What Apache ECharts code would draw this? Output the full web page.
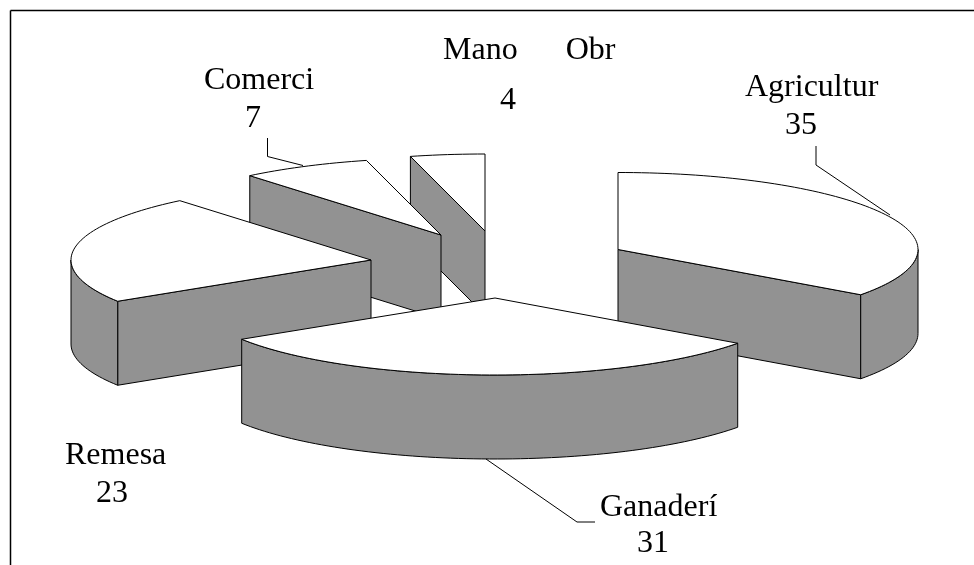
<!DOCTYPE html>
<html>
<head>
<meta charset="utf-8">
<title>Pie</title>
<script src="https://cdn.jsdelivr.net/npm/echarts@6/dist/echarts.min.js"></script>
<style>
    html, body { margin: 0; padding: 0; background: #fff; }
    #pie3d { width: 974px; height: 565px; }
</style>
</head>
<body>
<div id="pie3d"></div>
<script>
// chart data
var categories = ['Agricultur', 'Ganaderí', 'Remesa', 'Comerci', 'Mano\u00a0\u00a0\u00a0\u00a0\u00a0\u00a0Obr'];
var values = [35, 31, 23, 7, 4];

// exploded centre of every slice, same order as categories
var sliceCentres = [[618, 249.5], [495, 298], [371, 260], [441, 235], [485, 231]];
var radiusX = 300;
var radiusY = 77;
var depth = 84;

// label baselines: [name left, name y, value centre, value y]
var labelPlaces = [
    [745, 97, 801, 135],
    [600, 517, 653, 553],
    [65, 465, 112, 503],
    [204, 90, 253, 128],
    [443, 60, 508, 110]
];
// leader lines
var leaders = [
    [[816, 146], [816, 165], [890, 215]],
    [[486, 459], [577, 522], [595, 522]],
    [[267.5, 138], [267.5, 156.5], [303, 165.5]]
];

var sideColor = '#929292';
var fontCss = '32px "Liberation Serif"';
var total = values.reduce(function (a, b) { return a + b; }, 0);

// slice angles, clockwise from the top
var angles = [];
var running = 0;
values.forEach(function (v) {
    var from = echarts.number.linearMap(running, [0, total], [0, 360]);
    running += v;
    angles.push([from, echarts.number.linearMap(running, [0, total], [0, 360])]);
});

function rimPoint(c, deg, drop) {
    var rad = deg * Math.PI / 180;
    return [c[0] + radiusX * Math.sin(rad), c[1] - radiusY * Math.cos(rad) + drop];
}

function arcPoints(c, from, to, drop) {
    var pts = [];
    var steps = Math.max(2, Math.ceil(Math.abs(to - from) / 1.5));
    for (var i = 0; i <= steps; i++) {
        pts.push(rimPoint(c, from + (to - from) * i / steps, drop));
    }
    return pts;
}

function poly(points, fill) {
    return {
        type: 'polygon',
        shape: { points: points },
        style: { fill: fill, stroke: '#000', lineWidth: 1, lineJoin: 'bevel' }
    };
}

function cutFace(c, deg) {
    return poly([[c[0], c[1]], rimPoint(c, deg, 0), rimPoint(c, deg, depth), [c[0], c[1] + depth]], sideColor);
}

function renderSlice(params, api) {
    var idx = api.value(0);
    var c = sliceCentres[idx];
    var from = angles[idx][0];
    var to = angles[idx][1];
    var children = [];

    // cut faces that look towards the viewer
    if (Math.sin(from * Math.PI / 180) < -1e-6) children.push(cutFace(c, from));
    if (Math.sin(to * Math.PI / 180) > 1e-6) children.push(cutFace(c, to));

    // outer wall, only the front half of the rim shows
    var wallFrom = Math.max(from, 90);
    var wallTo = Math.min(to, 270);
    if (wallTo > wallFrom) {
        children.push(poly(
            arcPoints(c, wallFrom, wallTo, 0).concat(arcPoints(c, wallTo, wallFrom, depth)),
            sideColor
        ));
    }

    // top
    children.push(poly([[c[0], c[1]]].concat(arcPoints(c, from, to, 0)), '#fff'));
    return { type: 'group', children: children };
}

// paint from the back of the picture to the front
var paintOrder = categories.map(function (n, i) { return i; }).sort(function (a, b) {
    return sliceCentres[a][1] - sliceCentres[b][1];
});

var overlay = [
    { type: 'line', shape: { x1: 10.5, y1: 10.5, x2: 974, y2: 10.5 }, style: { stroke: '#000', lineWidth: 1.5 } },
    { type: 'line', shape: { x1: 10.5, y1: 10.5, x2: 10.5, y2: 565 }, style: { stroke: '#000', lineWidth: 1.5 } }
];
leaders.forEach(function (pts) {
    overlay.push({
        type: 'polyline',
        shape: { points: pts },
        style: { fill: null, stroke: '#000', lineWidth: 1 },
        z: 10
    });
});
categories.forEach(function (name, i) {
    var p = labelPlaces[i];
    // text is middle aligned, so lift it from the baseline
    overlay.push({
        type: 'text', z: 10,
        style: { text: name, x: p[0], y: p[1] - 9, font: fontCss, fill: '#000', align: 'left', verticalAlign: 'middle' }
    });
    overlay.push({
        type: 'text', z: 10,
        style: { text: String(values[i]), x: p[2], y: p[3] - 9, font: fontCss, fill: '#000', align: 'center', verticalAlign: 'middle' }
    });
});

var myChart = echarts.init(document.getElementById('pie3d'), null, { renderer: 'canvas' });
myChart.setOption({
    backgroundColor: '#fff',
    animation: false,
    graphic: { elements: overlay },
    series: [{
        type: 'custom',
        coordinateSystem: 'none',
        silent: true,
        renderItem: renderSlice,
        data: paintOrder.map(function (i) { return [i]; })
    }]
});
</script>
</body>
</html>
